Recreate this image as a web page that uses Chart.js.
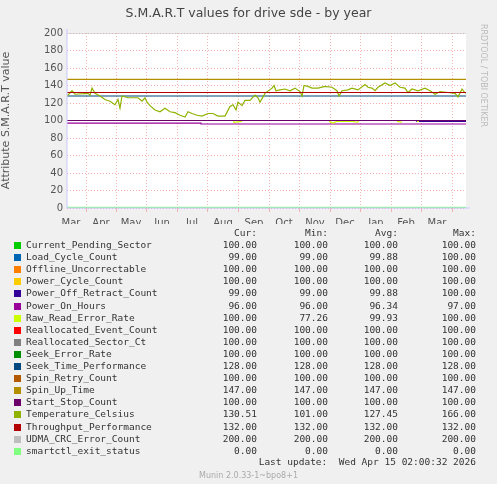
<!DOCTYPE html>
<html>
<head>
<meta charset="utf-8">
<script src="https://cdn.jsdelivr.net/npm/chart.js@4"></script>
<style>
body { margin:0; background:#f0f0f0; width:497px; height:484px; overflow:hidden; position:relative; font-family:"DejaVu Sans"; }
#c { position:absolute; left:0; top:0; }
.t { position:absolute; font-size:9.5px; color:#333; white-space:pre; font-family:"DejaVu Sans Mono"; }
.sq { position:absolute; width:7px; height:7px; }
</style>
</head>
<body>
<canvas id="c" width="497" height="484"></canvas>
<div id="legend"></div>
<script>
// month starts (days from start of graph) and labels
var monthStarts = [19, 49, 79, 110, 140, 171, 202, 232, 263, 293, 324, 354, 385];
var monthLabels = ["Mar", "Apr", "May", "Jun", "Jul", "Aug", "Sep", "Oct", "Nov", "Dec", "Jan", "Feb", "Mar"];
var labelDays = [4, 34, 64, 95, 125, 156, 187, 217, 248, 278, 309, 339, 370];

// temperature trace, [day, value]
var tempDays = [0, 5, 8, 21, 23, 25, 28, 33, 38, 43, 48, 51, 53, 55, 61, 71, 75, 78, 80, 83, 88, 93, 98, 103, 108, 113, 118, 121, 125, 130, 135, 141, 146, 151, 158, 163, 166, 169, 171, 175, 178, 183, 188, 191, 193, 198, 205, 207, 209, 213, 218, 223, 228, 233, 235, 237, 241, 245, 251, 258, 265, 270, 272, 275, 281, 285, 291, 298, 301, 305, 308, 311, 318, 323, 328, 333, 338, 341, 345, 351, 358, 363, 368, 373, 381, 388, 391, 395, 397, 399];
var tempVals = [128, 134, 130, 131, 129, 137, 131, 128, 124, 122, 118, 124, 114, 128, 126, 126, 122, 126, 121, 117, 112, 110, 114, 110, 109, 106, 104, 110, 108, 106, 105, 108, 108, 105, 105, 116, 118, 112, 121, 117, 123, 123, 129, 126, 121, 131, 137, 140, 134, 135, 136, 134, 137, 133, 128, 140, 139, 137, 137, 139, 138, 134, 128, 134, 135, 137, 135, 141, 138, 137, 134, 138, 143, 140, 143, 138, 137, 132, 136, 134, 137, 134, 130, 133, 132, 131, 127, 136, 133, 131];

// power on hours step
var pohDays = [0, 134, 134, 399];
var pohVals = [97, 97, 96, 96];

// raw read error rate (sparse)
var rawDays = [166, 167, 175, 176, 177, 262, 266, 270, 275, 280, 285, 290, 292, 297, 298, 330, 335, 336, 340, 345, 350, 352, 355];
var rawVals = [99, 98, 99, null, null, 99, 97, 99, 99, 99, 99, 98, 99, null, null, 99, 98, null, null, null, 99, 99, null];

// load cycle / power off retract at end
var lcDays = [0, 350, 350, 399];
var lcVals = [100, 100, 99, 99];

var names = ["Current_Pending_Sector", "Load_Cycle_Count", "Offline_Uncorrectable", "Power_Cycle_Count", "Power_Off_Retract_Count", "Power_On_Hours", "Raw_Read_Error_Rate", "Reallocated_Event_Count", "Reallocated_Sector_Ct", "Seek_Error_Rate", "Seek_Time_Performance", "Spin_Retry_Count", "Spin_Up_Time", "Start_Stop_Count", "Temperature_Celsius", "Throughput_Performance", "UDMA_CRC_Error_Count", "smartctl_exit_status"];
var colors = ["#00cc00", "#0066b3", "#ff8000", "#ffcc00", "#330099", "#990099", "#ccff00", "#ff0000", "#808080", "#008f00", "#00487d", "#b35a00", "#b38f00", "#6b006b", "#8fb300", "#b30000", "#bebebe", "#80ff80"];
var curVals = ["100.00", "99.00", "100.00", "100.00", "99.00", "96.00", "100.00", "100.00", "100.00", "100.00", "128.00", "100.00", "147.00", "100.00", "130.51", "132.00", "200.00", "0.00"];
var minVals = ["100.00", "99.00", "100.00", "100.00", "99.00", "96.00", "77.26", "100.00", "100.00", "100.00", "128.00", "100.00", "147.00", "100.00", "101.00", "132.00", "200.00", "0.00"];
var avgVals = ["100.00", "99.88", "100.00", "100.00", "99.88", "96.34", "99.93", "100.00", "100.00", "100.00", "128.00", "100.00", "147.00", "100.00", "127.45", "132.00", "200.00", "0.00"];
var maxVals = ["100.00", "100.00", "100.00", "100.00", "100.00", "97.00", "100.00", "100.00", "100.00", "100.00", "128.00", "100.00", "147.00", "100.00", "166.00", "132.00", "200.00", "0.00"];
var constVals = [100, null, 100, 100, null, null, null, 100, 100, 100, 128, 100, 147, 100, null, 132, 200, 0];

function pts(days, vals) {
    return days.map(function (d, i) { return {x: d, y: vals[i]}; });
}

var datasets = names.map(function (n, i) {
    var data;
    if (n === "Temperature_Celsius") data = pts(tempDays, tempVals);
    else if (n === "Power_On_Hours") data = pts(pohDays, pohVals);
    else if (n === "Raw_Read_Error_Rate") data = pts(rawDays, rawVals);
    else if (n === "Load_Cycle_Count" || n === "Power_Off_Retract_Count") data = pts(lcDays, lcVals);
    else data = pts([0, 399], [constVals[i], constVals[i]]);
    // later entries are drawn on top, like rrdtool
    return {label: n, data: data, borderColor: colors[i], borderWidth: 1.2, pointRadius: 0, spanGaps: false, tension: 0, order: names.length - i};
});
// bright green zero line drawn thick
datasets[17].borderWidth = 2.5;

var bgPlugin = {
    id: "bg",
    beforeDraw: function (chart) {
        var ctx = chart.ctx, a = chart.chartArea;
        ctx.save();
        ctx.fillStyle = "#ffffff";
        ctx.fillRect(a.left, a.top, a.right - a.left, a.bottom - a.top);
        ctx.restore();
    },
    afterDraw: function (chart) {
        var ctx = chart.ctx, a = chart.chartArea;
        ctx.save();
        ctx.strokeStyle = "#c8c8ff";
        ctx.beginPath();
        ctx.moveTo(a.left, a.bottom); ctx.lineTo(a.right + 4, a.bottom);
        ctx.moveTo(a.left, a.bottom); ctx.lineTo(a.left, a.top - 4);
        ctx.stroke();
        ctx.restore();
    }
};

new Chart(document.getElementById("c"), {
    type: "line",
    data: {datasets: datasets},
    plugins: [bgPlugin],
    options: {
        responsive: false,
        animation: false,
        layout: {padding: {left: 0, top: 33, right: 31, bottom: 260}},
        plugins: {
            legend: {display: false},
            tooltip: {enabled: false},
            title: {display: false}
        },
        scales: {
            x: {
                type: "linear", min: 0, max: 399,
                afterBuildTicks: function (s) { s.ticks = monthStarts.map(function (v) { return {value: v}; }); },
                ticks: {display: false},
                grid: {color: "rgba(240,150,150,0.7)", tickLength: 4, drawTicks: true},
                border: {dash: [1, 2], display: false},
                afterFit: function (s) { s.height = 0; }
            },
            xl: {
                type: "linear", min: 0, max: 399, position: "bottom",
                afterBuildTicks: function (s) { s.ticks = labelDays.map(function (v) { return {value: v}; }); },
                ticks: {
                    autoSkip: false, maxRotation: 0, padding: 1,
                    font: {family: "DejaVu Sans", size: 10}, color: "#555",
                    callback: function (v) { return monthLabels[labelDays.indexOf(v)]; }
                },
                grid: {display: false},
                border: {display: false},
                afterFit: function (s) { s.height = 16; }
            },
            y: {
                min: 0, max: 200,
                ticks: {
                    stepSize: 10, padding: 4,
                    font: {family: "DejaVu Sans", size: 10}, color: "#555",
                    callback: function (v) { return v % 20 === 0 ? v : ""; }
                },
                grid: {
                    color: function (c) { return c.tick && c.tick.value % 20 === 0 ? "rgba(240,150,150,0.8)" : "rgba(170,170,170,0.6)"; },
                    drawTicks: false
                },
                border: {display: false, dash: [1, 2]},
                title: {display: true, text: "Attribute S.M.A.R.T value", font: {family: "DejaVu Sans", size: 11}, color: "#555", padding: {top: 0, bottom: 8}},
                afterFit: function (s) { s.width = 67; }
            }
        }
    }
});

// header, side and footer texts
function txt(x, y, s, extra) {
    var d = document.createElement("div");
    d.className = "t";
    d.textContent = s;
    d.style.left = x + "px";
    d.style.top = y + "px";
    if (extra) for (var k in extra) d.style[k] = extra[k];
    document.body.appendChild(d);
    return d;
}
txt(0, 5, "S.M.A.R.T values for drive sde - by year", {width: "497px", textAlign: "center", fontFamily: "DejaVu Sans", fontSize: "12.5px", color: "#444"});
txt(479, 24, "RRDTOOL / TOBI OETIKER", {writingMode: "vertical-rl", fontFamily: "DejaVu Sans", fontSize: "8px", color: "#bbb"});

var cols = [257, 328, 398, 476];
var heads = ["Cur:", "Min:", "Avg:", "Max:"];
heads.forEach(function (h, i) { txt(cols[i] - 60, 227, h, {width: "60px", textAlign: "right"}); });
names.forEach(function (n, i) {
    var y = 239 + i * 12.1;
    var sq = document.createElement("div");
    sq.className = "sq";
    sq.style.left = "14px";
    sq.style.top = (y + 3) + "px";
    sq.style.background = colors[i];
    document.body.appendChild(sq);
    txt(26, y, n);
    [curVals, minVals, avgVals, maxVals].forEach(function (arr, j) {
        txt(cols[j] - 60, y, arr[i], {width: "60px", textAlign: "right"});
    });
});
txt(0, 456, "Last update:  Wed Apr 15 02:00:32 2026", {width: "476px", textAlign: "right"});
txt(0, 471, "Munin 2.0.33-1~bpo8+1", {width: "497px", textAlign: "center", fontFamily: "DejaVu Sans", fontSize: "8px", color: "#aaa"});
</script>
</body>
</html>
